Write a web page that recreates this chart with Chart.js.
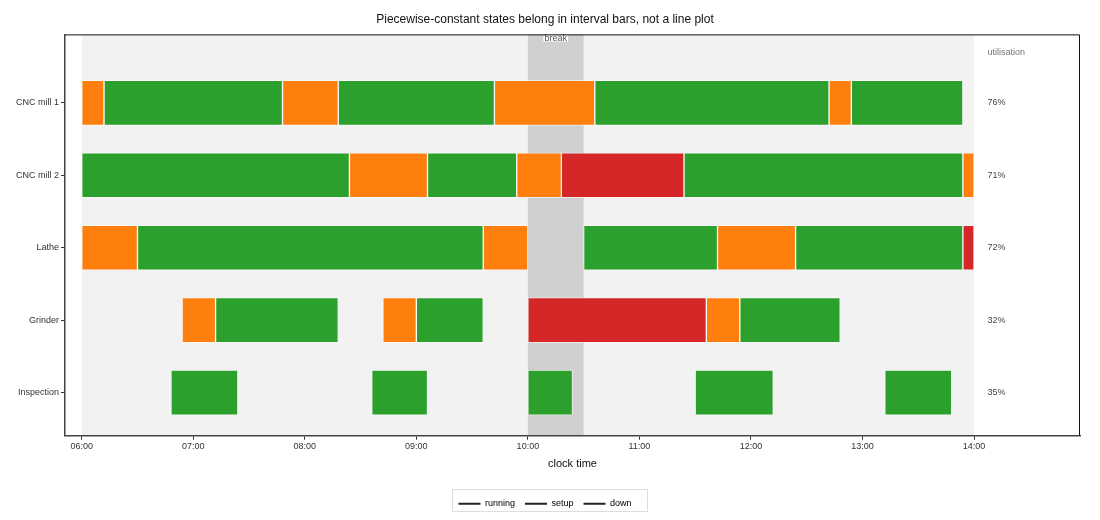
<!DOCTYPE html>
<html>
<head>
<meta charset="utf-8">
<script src="https://cdn.jsdelivr.net/npm/chart.js@4.4.0/dist/chart.umd.min.js"></script>
<style>
html,body{margin:0;padding:0;background:#ffffff;}
#wrap{width:1100px;height:520px;}
</style>
</head>
<body>
<div id="wrap"><canvas id="c" width="1100" height="520"></canvas></div>
<script>
// ---------------- data ----------------
const machines = ["CNC mill 1", "CNC mill 2", "Lathe", "Grinder", "Inspection"];

const cncMill1 = [
  ["06:00", "06:12", "setup"], ["06:12", "07:48", "running"], ["07:48", "08:18", "setup"],
  ["08:18", "09:42", "running"], ["09:42", "10:36", "setup"], ["10:36", "12:42", "running"],
  ["12:42", "12:54", "setup"], ["12:54", "13:54", "running"]
];
const cncMill2 = [
  ["06:00", "08:24", "running"], ["08:24", "09:06", "setup"], ["09:06", "09:54", "running"],
  ["09:54", "10:18", "setup"], ["10:18", "11:24", "down"], ["11:24", "13:54", "running"],
  ["13:54", "14:00", "setup"]
];
const lathe = [
  ["06:00", "06:30", "setup"], ["06:30", "09:36", "running"], ["09:36", "10:00", "setup"],
  ["10:30", "11:42", "running"], ["11:42", "12:24", "setup"], ["12:24", "13:54", "running"],
  ["13:54", "14:00", "down"]
];
const grinder = [
  ["06:54", "07:12", "setup"], ["07:12", "08:18", "running"], ["08:42", "09:00", "setup"],
  ["09:00", "09:36", "running"], ["10:00", "11:36", "down"], ["11:36", "11:54", "setup"],
  ["11:54", "12:48", "running"]
];
const inspection = [
  ["06:48", "07:24", "running"], ["08:36", "09:06", "running"], ["10:00", "10:24", "running"],
  ["11:30", "12:12", "running"], ["13:12", "13:48", "running"]
];

const utilisation = ["76%", "71%", "72%", "32%", "35%"];
const states = ["running", "setup", "down"];
const stateColors = ["#2ca02c", "#ff7f0e", "#d62728"];
const hourTicks = ["06:00", "07:00", "08:00", "09:00", "10:00", "11:00", "12:00", "13:00", "14:00"];
const shiftWindow = ["06:00", "14:00"];
const breakWindow = ["10:00", "10:30"];
const breakLabel = "break";
const utilisationHeader = "utilisation";
const chartTitle = "Piecewise-constant states belong in interval bars, not a line plot";
const xTitle = "clock time";

// ---------------- helpers ----------------
const toHours = s => { const p = s.split(":").map(Number); return p[0] + p[1] / 60; };
const fmt = v => { const h = Math.floor(v + 1e-9), m = Math.round((v - h) * 60); return String(h).padStart(2, "0") + ":" + String(m).padStart(2, "0"); };
const schedule = [cncMill1, cncMill2, lathe, grinder, inspection];

const datasets = states.map((st, si) => {
  const data = [];
  schedule.forEach((rows, ri) => rows.forEach(seg => {
    if (seg[2] === st) data.push({ x: [toHours(seg[0]), toHours(seg[1])], y: ri });
  }));
  return {
    label: st,
    data: data,
    backgroundColor: stateColors[si],
    borderColor: "rgba(255,255,255,0.55)",
    borderWidth: 1,
    borderSkipped: false,
    barThickness: 45,
    grouped: false
  };
});

Chart.defaults.font.family = "'Liberation Sans', Arial, Helvetica, sans-serif";
Chart.defaults.color = "#333";

const decor = {
  id: "decor",
  beforeDraw(chart) {
    const { ctx, chartArea: a, scales: { x } } = chart;
    ctx.save();
    ctx.beginPath(); ctx.rect(a.left, a.top, a.right - a.left, a.bottom - a.top); ctx.clip();
    const s0 = x.getPixelForValue(toHours(shiftWindow[0])), s1 = x.getPixelForValue(toHours(shiftWindow[1]));
    ctx.fillStyle = "#f2f2f2";
    ctx.fillRect(s0, a.top, s1 - s0, a.bottom - a.top);
    const b0 = x.getPixelForValue(toHours(breakWindow[0])), b1 = x.getPixelForValue(toHours(breakWindow[1]));
    ctx.fillStyle = "#d0d0d0";
    ctx.fillRect(b0, a.top, b1 - b0, a.bottom - a.top);
    ctx.restore();
  },
  afterDatasetsDraw(chart) {
    const { ctx, chartArea: a, scales: { x, y } } = chart;
    ctx.save();
    // break label
    const bm = x.getPixelForValue((toHours(breakWindow[0]) + toHours(breakWindow[1])) / 2);
    ctx.font = "9px 'Liberation Sans', Arial, sans-serif";
    const tw = ctx.measureText(breakLabel).width;
    ctx.fillStyle = "#ffffff";
    ctx.fillRect(bm - tw / 2 - 1.5, a.top, tw + 3, 7.5);
    ctx.strokeStyle = "#cccccc"; ctx.lineWidth = 0.6;
    ctx.strokeRect(bm - tw / 2 - 1.5, a.top, tw + 3, 7.5);
    ctx.fillStyle = "#555";
    ctx.textAlign = "center"; ctx.textBaseline = "middle";
    ctx.fillText(breakLabel, bm, a.top + 4);
    // utilisation column
    const ux = x.getPixelForValue(toHours(shiftWindow[1])) + 13.5;
    ctx.textAlign = "left";
    ctx.fillStyle = "#777";
    ctx.fillText(utilisationHeader, ux, y.getPixelForValue(-0.7));
    ctx.fillStyle = "#444";
    utilisation.forEach((u, i) => ctx.fillText(u, ux, y.getPixelForValue(i)));
    ctx.restore();
  },
  afterDraw(chart) {
    const { ctx, chartArea: a } = chart;
    ctx.save();
    ctx.strokeStyle = "#111"; ctx.lineWidth = 1;
    ctx.beginPath();
    ctx.moveTo(a.left, a.top + 0.5); ctx.lineTo(a.right - 0.5, a.top + 0.5); ctx.lineTo(a.right - 0.5, a.bottom);
    ctx.stroke();
    // legend frame
    const hb = chart.legend.legendHitBoxes;
    if (hb && hb.length) {
      const l = hb[0].left - 6, r = hb[hb.length - 1].left + hb[hb.length - 1].width + 16;
      const t = hb[0].top - 10, b = hb[0].top + hb[0].height + 2.5;
      ctx.strokeStyle = "#dddddd"; ctx.lineWidth = 1;
      ctx.strokeRect(Math.round(l) + 0.5, Math.round(t) + 0.5, Math.round(r - l), Math.round(b - t));
    }
    ctx.restore();
  }
};

new Chart(document.getElementById("c"), {
  type: "bar",
  data: { datasets: datasets },
  plugins: [decor],
  options: {
    indexAxis: "y",
    responsive: false,
    animation: false,
    devicePixelRatio: 1,
    layout: { padding: { left: 10, right: 20, top: 0, bottom: 1.8 } },
    scales: {
      x: {
        type: "linear",
        min: 5.85,
        max: 14.95,
        offset: false,
        afterBuildTicks: s => { s.ticks = hourTicks.map(t => ({ value: toHours(t) })); },
        afterFit: s => { s.height = 53.5; },
        ticks: { callback: v => fmt(v), font: { size: 9 }, color: "#333", padding: 1, maxRotation: 0, autoSkip: false },
        grid: { offset: false, drawOnChartArea: false, drawTicks: true, tickLength: 4, color: "#333" },
        border: { display: true, color: "#444", width: 1.5 },
        title: { display: true, text: xTitle, font: { size: 11 }, color: "#111", padding: { top: 4, bottom: 18.6 } }
      },
      y: {
        type: "linear",
        reverse: true,
        min: -0.945,
        max: 4.595,
        offset: false,
        afterBuildTicks: s => { s.ticks = machines.map((m, i) => ({ value: i })); },
        afterFit: s => { s.width = 55; },
        ticks: { callback: v => machines[v] || "", font: { size: 9 }, color: "#333", padding: 2, autoSkip: false },
        grid: { offset: false, drawOnChartArea: false, drawTicks: true, tickLength: 4, color: "#333" },
        border: { display: true, color: "#444", width: 1.5 }
      }
    },
    plugins: {
      title: { display: true, text: chartTitle, font: { size: 12, weight: "normal" }, color: "#111", padding: { top: 12, bottom: 8 } },
      tooltip: { enabled: false },
      legend: {
        position: "bottom",
        onClick: null,
        labels: {
          usePointStyle: true,
          pointStyleWidth: 22,
          padding: 10,
          font: { size: 9 },
          color: "#222",
          generateLabels: () => states.map((s, i) => ({
            text: s, fillStyle: "#222", strokeStyle: "#222", lineWidth: 2,
            pointStyle: "line", hidden: false, datasetIndex: i
          }))
        }
      }
    }
  }
});
</script>
</body>
</html>
